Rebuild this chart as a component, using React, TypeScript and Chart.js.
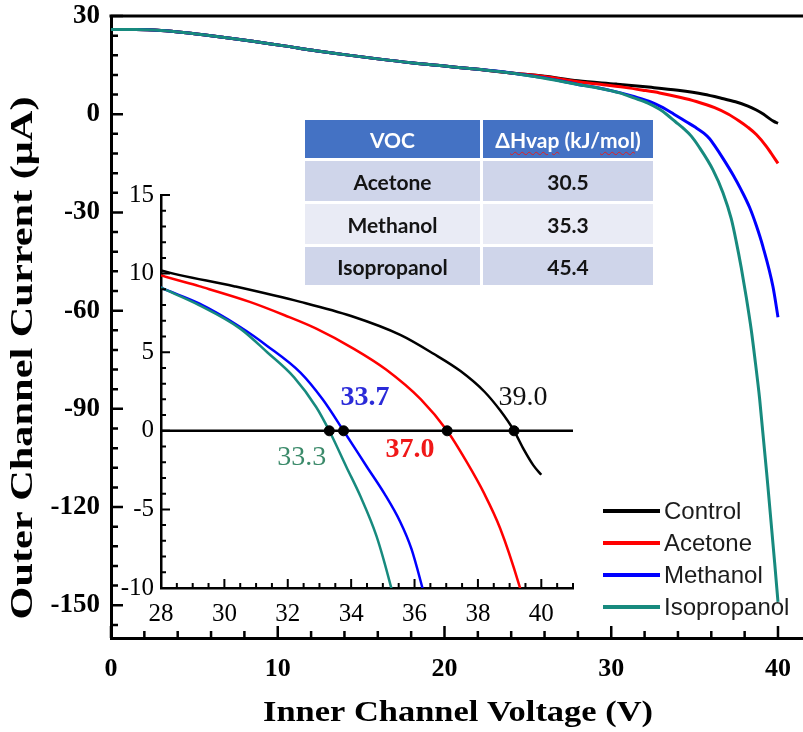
import React, { useEffect, useRef } from 'react';
import { Chart, registerables } from 'chart.js';

Chart.register(...registerables);

// ---------------- data ----------------
const SERIES_NAMES = ['Control', 'Acetone', 'Methanol', 'Isopropanol'];
const SERIES_COLORS = ['#000000', '#ff0000', '#0000ff', '#178a7e'];

const CONTROL_V = [0, 1.5, 3, 4.5, 6, 7.5, 9, 10.5, 12, 14, 16, 18, 20, 22, 24, 26, 28, 30.3, 32.4, 34, 35.55, 36.6, 37.45, 38.2, 38.7, 39.14, 39.45, 39.75, 40];
const CONTROL_I = [25.9, 25.9, 25.6, 24.9, 24.0, 23.0, 21.9, 20.8, 19.6, 18.2, 16.9, 15.7, 14.7, 13.7, 12.6, 11.6, 10.2, 9.2, 8.2, 7.3, 6.1, 4.9, 3.8, 2.5, 1.3, 0, -1.2, -2.2, -2.8];

const ACETONE_V = [0, 1.5, 3, 4.5, 6, 7.5, 9, 10.5, 12, 14, 16, 18, 20, 22, 24, 26, 28, 29.2, 30.8, 31.9, 32.9, 34.1, 35.1, 36.2, 37.03, 37.65, 38.2, 38.7, 39.3, 39.6, 40];
const ACETONE_I = [25.9, 25.9, 25.6, 24.9, 24.0, 23.0, 21.9, 20.8, 19.6, 18.2, 16.9, 15.7, 14.7, 13.7, 12.6, 11.5, 9.9, 9.2, 8.2, 7.35, 6.5, 5.2, 3.9, 2.0, 0, -2.0, -4.0, -6.2, -9.8, -12.0, -15.0];

const METHANOL_V = [0, 1.5, 3, 4.5, 6, 7.5, 9, 10.5, 12, 14, 16, 18, 20, 22, 24, 26, 28, 29.2, 30.5, 31.35, 32.4, 33.1, 33.76, 34.5, 35.05, 35.55, 35.9, 36.25, 36.7, 37.3, 37.8, 38.3, 38.7, 39.1, 39.7, 40];
const METHANOL_I = [25.9, 25.9, 25.6, 24.9, 24.0, 23.0, 21.9, 20.8, 19.6, 18.2, 16.9, 15.7, 14.7, 13.7, 12.6, 11.1, 9.1, 8.1, 6.6, 5.4, 3.7, 2.0, 0, -2.3, -4.0, -5.8, -7.5, -10.0, -13.5, -18.5, -23.2, -28.5, -34.0, -40.5, -52.7, -62.0];

const ISOPROPANOL_V = [0, 1.5, 3, 4.5, 6, 7.5, 9, 10.5, 12, 14, 16, 18, 20, 22, 24, 26, 28, 29.2, 30.5, 31.35, 32.2, 32.9, 33.31, 33.85, 34.3, 34.8, 35.24, 36.1, 36.7, 37.2, 37.5, 37.8, 38.1, 38.4, 38.6, 38.9, 39.4, 39.8, 40];
const ISOPROPANOL_I = [25.9, 25.9, 25.6, 24.9, 24.0, 23.0, 21.9, 20.8, 19.6, 18.2, 16.9, 15.7, 14.7, 13.7, 12.6, 11.0, 9.1, 8.0, 6.5, 5.0, 3.4, 1.5, 0, -2.3, -4.2, -6.7, -9.8, -17.0, -24.0, -32.0, -39.0, -47.0, -56.0, -66.0, -74.0, -87.0, -114.0, -137.0, -149.0];

const SERIES_V = [CONTROL_V, ACETONE_V, METHANOL_V, ISOPROPANOL_V];
const SERIES_I = [CONTROL_I, ACETONE_I, METHANOL_I, ISOPROPANOL_I];

const MAIN_X_TICKS = [0, 10, 20, 30, 40];
const MAIN_Y_TICKS = [30, 0, -30, -60, -90, -120, -150];
const INSET_X_TICKS = [28, 30, 32, 34, 36, 38, 40];
const INSET_Y_TICKS = [15, 10, 5, 0, -5, -10];

// zero-crossing points (V at I = 0) and their annotations
const CROSS_V = [39.14, 37.03, 33.76, 33.31];
const NOTE_TEXT = ['39.0', '37.0', '33.7', '33.3'];
const NOTE_V = [39.42, 35.86, 34.44, 32.44];
const NOTE_I = [2.1, -1.2, 2.1, -1.7];
const NOTE_COLORS = ['#111111', '#f01818', '#2a2ad8', '#3b8a6a'];
const NOTE_WEIGHTS = ['normal', 'bold', 'bold', 'normal'];

const TABLE_VOC = ['Acetone', 'Methanol', 'Isopropanol'];
const TABLE_HVAP = ['30.5', '35.3', '45.4'];

// ---------------- helpers ----------------
const SERIF = '"Liberation Serif", "Times New Roman", serif';

function seriesPoints(i: number) {
  return SERIES_V[i].map((v, k) => ({ x: v, y: SERIES_I[i][k] }));
}

function stepValues(min: number, max: number, step: number) {
  const out: number[] = [];
  for (let k = Math.ceil(min / step - 1e-9); k * step <= max + 1e-9; k++) out.push(k * step);
  return out;
}

function isMultiple(v: number, step: number) {
  const r = v / step;
  return Math.abs(r - Math.round(r)) < 1e-6;
}

function makeTickPlugin(id: string, o: any) {
  return {
    id,
    afterDraw(chart: any) {
      const { ctx, chartArea: a, scales } = chart;
      const x = scales.x;
      const y = scales.y;
      ctx.save();
      ctx.strokeStyle = '#000';
      ctx.lineWidth = o.width;
      ctx.beginPath();
      stepValues(x.min, x.max, o.xMinor).forEach((v) => {
        const len = isMultiple(v, o.xMajor) ? o.majorLen : o.minorLen;
        const px = x.getPixelForValue(v);
        ctx.moveTo(px, a.bottom);
        ctx.lineTo(px, a.bottom - len);
      });
      stepValues(y.min, y.max, o.yMinor).forEach((v) => {
        const len = isMultiple(v, o.yMajor) ? o.majorLen : o.minorLen;
        const py = y.getPixelForValue(v);
        ctx.moveTo(a.left, py);
        ctx.lineTo(a.left + len, py);
      });
      ctx.stroke();
      if (o.topBorder) {
        ctx.lineWidth = o.borderWidth;
        ctx.beginPath();
        ctx.moveTo(a.left - o.borderWidth / 2, a.top);
        ctx.lineTo(a.right, a.top);
        ctx.stroke();
      }
      ctx.restore();
    },
  };
}

function drawStretched(ctx: CanvasRenderingContext2D, text: string, cx: number, cy: number, font: string, target: number, vertical: boolean) {
  ctx.save();
  ctx.translate(cx, cy);
  if (vertical) ctx.rotate(-Math.PI / 2);
  ctx.font = font;
  const w = ctx.measureText(text).width;
  ctx.scale(target / w, 1);
  ctx.textAlign = 'center';
  ctx.textBaseline = 'middle';
  ctx.fillStyle = '#000';
  ctx.fillText(text, 0, 0);
  ctx.restore();
}

const mainExtras = {
  id: 'mainExtras',
  afterDraw(chart: any) {
    const { ctx } = chart;
    drawStretched(ctx, 'Inner Channel Voltage (V)', 458, 713, `bold 30px ${SERIF}`, 390, false);
    drawStretched(ctx, 'Outer Channel Current (\u03bcA)', 24, 358, `bold 32px ${SERIF}`, 523, true);
    // legend
    ctx.save();
    chart.data.datasets.forEach((ds: any, i: number) => {
      const yy = 511 + i * 32;
      ctx.strokeStyle = ds.borderColor;
      ctx.lineWidth = 4;
      ctx.beginPath();
      ctx.moveTo(603, yy);
      ctx.lineTo(660, yy);
      ctx.stroke();
      ctx.fillStyle = '#1c1c1c';
      ctx.font = '24px "Liberation Sans", Arial, sans-serif';
      ctx.textAlign = 'left';
      ctx.textBaseline = 'middle';
      ctx.fillText(ds.label, 664, yy + 1);
    });
    ctx.restore();
  },
};

const insetNotes = {
  id: 'insetNotes',
  afterDatasetsDraw(chart: any) {
    const { ctx, scales } = chart;
    ctx.save();
    ctx.textAlign = 'center';
    ctx.textBaseline = 'middle';
    NOTE_TEXT.forEach((t, i) => {
      ctx.font = `${NOTE_WEIGHTS[i]} 28px ${SERIF}`;
      ctx.fillStyle = NOTE_COLORS[i];
      ctx.fillText(t, scales.x.getPixelForValue(NOTE_V[i]), scales.y.getPixelForValue(NOTE_I[i]));
    });
    ctx.restore();
  },
};

function axisCommon(ticks: number[], fit: (s: any) => void, tickOpts: any, borderWidth: number) {
  return {
    type: 'linear',
    grid: { display: false, drawTicks: false },
    border: { display: true, color: '#000', width: borderWidth },
    afterBuildTicks: (s: any) => {
      s.ticks = ticks.map((v) => ({ value: v }));
    },
    afterFit: (s: any) => {
      fit(s);
      s.paddingLeft = 0;
      s.paddingRight = 0;
      s.paddingTop = 0;
      s.paddingBottom = 0;
    },
    ticks: { autoSkip: false, maxRotation: 0, color: '#000', callback: (v: any) => String(v), ...tickOpts },
  };
}

export default function App() {
  const mainRef = useRef<HTMLCanvasElement>(null);
  const insetRef = useRef<HTMLCanvasElement>(null);

  useEffect(() => {
    const mainDatasets = SERIES_NAMES.map((name, i) => ({
      label: name,
      data: seriesPoints(i),
      borderColor: SERIES_COLORS[i],
      backgroundColor: SERIES_COLORS[i],
      borderWidth: 3,
      pointRadius: 0,
      cubicInterpolationMode: 'monotone',
      fill: false,
      order: SERIES_NAMES.length - i,
    }));

    const main = new Chart(mainRef.current as HTMLCanvasElement, {
      type: 'line',
      data: { datasets: mainDatasets as any },
      options: {
        responsive: false,
        maintainAspectRatio: false,
        animation: false,
        layout: { padding: { top: 16, right: 0, bottom: 0, left: 0 } },
        plugins: { legend: { display: false }, tooltip: { enabled: false } },
        scales: {
          x: {
            ...axisCommon(MAIN_X_TICKS, (s) => { s.height = 94; }, { padding: 16, font: { family: SERIF, size: 26, weight: 'bold' } }, 3),
            min: 0,
            max: 41.5,
          },
          y: {
            ...axisCommon(MAIN_Y_TICKS, (s) => { s.width = 111; }, { padding: 11, font: { family: SERIF, size: 27, weight: 'bold' } }, 3),
            min: -160,
            max: 30,
          },
        } as any,
      },
      plugins: [
        makeTickPlugin('mainTicks', { xMinor: 2, xMajor: 10, yMinor: 6, yMajor: 30, majorLen: 12, minorLen: 7, width: 2.5, topBorder: true, borderWidth: 3 }),
        mainExtras,
      ],
    });

    const insetDatasets: any[] = SERIES_NAMES.map((name, i) => ({
      label: name,
      data: seriesPoints(i),
      borderColor: SERIES_COLORS[i],
      borderWidth: 2.5,
      pointRadius: 0,
      cubicInterpolationMode: 'monotone',
      fill: false,
      order: 2 + SERIES_NAMES.length - i,
    }));
    insetDatasets.push({
      label: 'zero',
      data: [{ x: INSET_X_TICKS[0], y: 0 }, { x: 41, y: 0 }],
      borderColor: '#000',
      borderWidth: 2.5,
      pointRadius: 0,
      fill: false,
      order: 10,
    });
    insetDatasets.push({
      label: 'crossings',
      data: CROSS_V.map((v) => ({ x: v, y: 0 })),
      showLine: false,
      pointRadius: 5,
      pointBackgroundColor: '#000',
      pointBorderColor: '#000',
      borderColor: '#000',
      order: 0,
    });

    const inset = new Chart(insetRef.current as HTMLCanvasElement, {
      type: 'line',
      data: { datasets: insetDatasets },
      options: {
        responsive: false,
        maintainAspectRatio: false,
        animation: false,
        layout: { padding: { top: 15, right: 7, bottom: 0, left: 0 } },
        plugins: { legend: { display: false }, tooltip: { enabled: false } },
        scales: {
          x: {
            ...axisCommon(INSET_X_TICKS, (s) => { s.height = 42; }, { padding: 11, font: { family: SERIF, size: 25 } }, 2.5),
            min: 28,
            max: 41,
          },
          y: {
            ...axisCommon(INSET_Y_TICKS, (s) => { s.width = 51; }, { padding: 7, font: { family: SERIF, size: 25 } }, 2.5),
            min: -10,
            max: 15,
          },
        } as any,
      },
      plugins: [
        makeTickPlugin('insetTicks', { xMinor: 0.5, xMajor: 2, yMinor: 1, yMajor: 5, majorLen: 9, minorLen: 5, width: 2, topBorder: false, borderWidth: 2.5 }),
        insetNotes,
      ],
    });

    return () => {
      main.destroy();
      inset.destroy();
    };
  }, []);

  const wavy: React.CSSProperties = {
    textDecorationLine: 'underline',
    textDecorationStyle: 'wavy',
    textDecorationColor: '#e02020',
    textDecorationThickness: '1px',
    textUnderlineOffset: '3px',
  };
  const cell = (bg: string, color: string): React.CSSProperties => ({
    background: bg,
    color,
    display: 'flex',
    alignItems: 'center',
    justifyContent: 'center',
    whiteSpace: 'nowrap',
  });
  const rowBg = ['#cfd5ea', '#e9ebf5', '#cfd5ea'];

  return (
    <div style={{ position: 'absolute', left: 0, top: 0, width: 803, height: 732, background: '#fff', overflow: 'hidden' }}>
      <canvas ref={mainRef} width={803} height={732} style={{ position: 'absolute', left: 0, top: 0, width: 803, height: 732 }} />
      <canvas ref={insetRef} width={470} height={450} style={{ position: 'absolute', left: 110, top: 180, width: 470, height: 450 }} />
      <div
        style={{
          position: 'absolute',
          left: 305,
          top: 120,
          width: 348,
          height: 165,
          display: 'grid',
          gridTemplateColumns: '175px 170px',
          gridTemplateRows: '38px 40px 40px 38px',
          columnGap: 3,
          rowGap: 3,
          fontFamily: 'Lato, "Open Sans", sans-serif',
          fontWeight: 700,
          fontSize: 21,
        }}
      >
        <div style={cell('#4472c4', '#fff')}>VOC</div>
        <div style={cell('#4472c4', '#fff')}>
          <span>{'\u0394'}</span>
          <span style={wavy}>Hvap</span>
          <span>&nbsp;(kJ/</span>
          <span style={wavy}>mol</span>
          <span>)</span>
        </div>
        {TABLE_VOC.map((voc, i) => (
          <React.Fragment key={voc}>
            <div style={cell(rowBg[i], '#141414')}>{voc}</div>
            <div style={cell(rowBg[i], '#141414')}>{TABLE_HVAP[i]}</div>
          </React.Fragment>
        ))}
      </div>
    </div>
  );
}
